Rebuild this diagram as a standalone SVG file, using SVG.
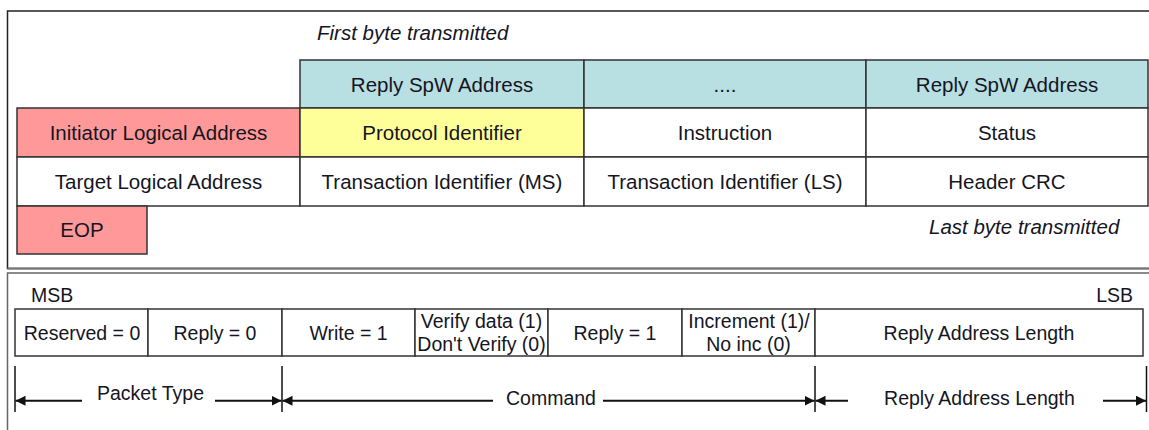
<svg xmlns="http://www.w3.org/2000/svg" width="1149" height="430" viewBox="0 0 1149 430">
<style>
text{font-family:"Liberation Sans",Arial,sans-serif;fill:#15151f;text-anchor:middle}
.t{font-size:20.5px}
.b{font-size:19.5px}
.i{font-style:italic;font-size:20.5px;text-anchor:start}
.cell{stroke:#333;stroke-width:1.5}
.pink{fill:#FF9999}
.yel{fill:#FFFF99}
.teal{fill:#B8DFE2}
.wh{fill:#fff}
.tick{stroke:#111;stroke-width:1.5}
.arr{stroke:#111;stroke-width:2;fill:none;marker-end:url(#ah)}
</style>
<defs>
<marker id="ah" markerUnits="userSpaceOnUse" markerWidth="11" markerHeight="11" refX="10" refY="5" orient="auto">
<path d="M0,0 L10,5 L0,10 z" fill="#111"/>
</marker>
</defs>
<rect width="1149" height="430" fill="#fff"/>
<g id="frames">
<polyline points="1150,11 7.5,11 7.5,268.5 1150,268.5" fill="none" stroke="#222" stroke-width="1.5"/>
<line x1="7.5" y1="268.5" x2="1150" y2="268.5" stroke="#777" stroke-width="2"/>
<polyline points="1150,273 7.5,273 7.5,431" fill="none" stroke="#666" stroke-width="1.5"/>
</g>
<text class="i" x="317" y="40">First byte transmitted</text>
<text class="i" x="929" y="234">Last byte transmitted</text>
<g id="n-reply1"><rect class="cell teal" x="300" y="60" width="284" height="48"/><text class="t" x="442" y="91.5">Reply SpW Address</text></g>
<g id="n-dots"><rect class="cell teal" x="584" y="60" width="282" height="48"/><text class="t" x="725" y="91.5">....</text></g>
<g id="n-reply2"><rect class="cell teal" x="866" y="60" width="282" height="48"/><text class="t" x="1007" y="91.5">Reply SpW Address</text></g>
<g id="n-init"><rect class="cell pink" x="17" y="108" width="283" height="49"/><text class="t" x="158.5" y="140">Initiator Logical Address</text></g>
<g id="n-proto"><rect class="cell yel" x="300" y="108" width="284" height="49"/><text class="t" x="442" y="140">Protocol Identifier</text></g>
<g id="n-instr"><rect class="cell wh" x="584" y="108" width="282" height="49"/><text class="t" x="725" y="140">Instruction</text></g>
<g id="n-status"><rect class="cell wh" x="866" y="108" width="282" height="49"/><text class="t" x="1007" y="140">Status</text></g>
<g id="n-target"><rect class="cell wh" x="17" y="157" width="283" height="49"/><text class="t" x="158.5" y="189">Target Logical Address</text></g>
<g id="n-tms"><rect class="cell wh" x="300" y="157" width="284" height="49"/><text class="t" x="442" y="189">Transaction Identifier (MS)</text></g>
<g id="n-tls"><rect class="cell wh" x="584" y="157" width="282" height="49"/><text class="t" x="725" y="189">Transaction Identifier (LS)</text></g>
<g id="n-crc"><rect class="cell wh" x="866" y="157" width="282" height="49"/><text class="t" x="1007" y="189">Header CRC</text></g>
<g id="n-eop"><rect class="cell pink" x="17" y="206" width="130" height="48"/><text class="t" x="82" y="237">EOP</text></g>
<text class="b" x="31" y="302" style="text-anchor:start">MSB</text>
<text class="b" x="1133" y="302" style="text-anchor:end">LSB</text>
<g id="n-res"><rect class="cell wh" x="15" y="309" width="133" height="47"/><text class="b" x="82" y="339.5">Reserved = 0</text></g>
<g id="n-rep0"><rect class="cell wh" x="148" y="309" width="134" height="47"/><text class="b" x="215" y="339.5">Reply = 0</text></g>
<g id="n-write"><rect class="cell wh" x="282" y="309" width="133" height="47"/><text class="b" x="348.5" y="339.5">Write = 1</text></g>
<g id="n-verify"><rect class="cell wh" x="415" y="309" width="133" height="47"/><text class="b" x="481.5" y="328">Verify data (1)</text><text class="b" x="481.5" y="350.5">Don't Verify (0)</text></g>
<g id="n-rep1"><rect class="cell wh" x="548" y="309" width="134" height="47"/><text class="b" x="615" y="339.5">Reply = 1</text></g>
<g id="n-inc"><rect class="cell wh" x="682" y="309" width="133" height="47"/><text class="b" x="749" y="328">Increment (1)/</text><text class="b" x="748.5" y="350.5">No inc (0)</text></g>
<g id="n-ral"><rect class="cell wh" x="815" y="309" width="328" height="47"/><text class="b" x="979" y="339.5">Reply Address Length</text></g>
<g id="connectors">
<line class="tick" x1="15" y1="366" x2="15" y2="412"/>
<line class="tick" x1="282" y1="366" x2="282" y2="412"/>
<line class="tick" x1="815" y1="366" x2="815" y2="412"/>
<line class="tick" x1="1146.5" y1="366" x2="1146.5" y2="412"/>
<line class="arr" x1="82" y1="400.7" x2="15.5" y2="400.7"/>
<line class="arr" x1="215" y1="400.7" x2="281.5" y2="400.7"/>
<line class="arr" x1="493" y1="400.7" x2="282.5" y2="400.7"/>
<line class="arr" x1="603" y1="400.7" x2="814.5" y2="400.7"/>
<line class="arr" x1="848" y1="400.7" x2="815.5" y2="400.7"/>
<line class="arr" x1="1103" y1="400.7" x2="1146" y2="400.7"/>
</g>
<text class="b" x="150.5" y="400">Packet Type</text>
<text class="b" x="551" y="405">Command</text>
<text class="b" x="979.5" y="405">Reply Address Length</text>
</svg>
